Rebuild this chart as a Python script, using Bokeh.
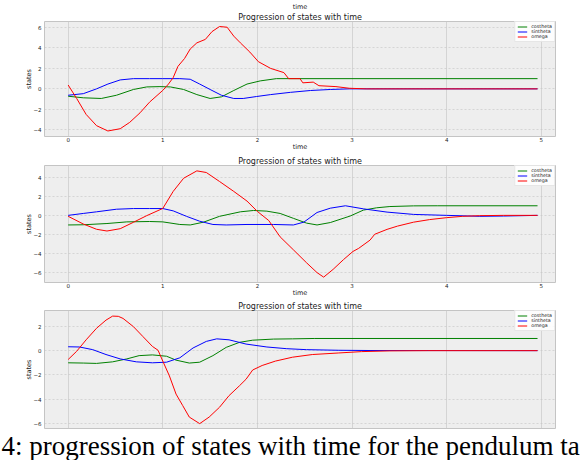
from bokeh.plotting import figure
from bokeh.layouts import column
from bokeh.models import Range1d, SingleIntervalTicker, Title
from bokeh.embed import file_html
from bokeh.resources import INLINE

TITLE = "Progression of states with time"
X_LABEL = "time"
Y_LABEL = "states"
NAMES = ["costheta", "sintheta", "omega"]
COLORS = ["green", "blue", "red"]
CAPTION = "4: progression of states with time for the pendulum ta"

# ---------------- panel 1 ----------------
p1_cos_t = [0, 0.16, 0.35, 0.51, 0.69, 0.83, 0.97, 1.08, 1.22, 1.36, 1.50, 1.62, 1.75, 1.89, 2.03, 2.2, 4.96]
p1_cos_v = [-0.72, -0.875, -0.94, -0.625, -0.06, 0.19, 0.22, 0.19, -0.06, -0.56, -0.94, -0.78, -0.16, 0.47, 0.78, 1.0, 1.0]
p1_sin_t = [0, 0.16, 0.30, 0.42, 0.55, 0.69, 0.86, 1.0, 1.18, 1.29, 1.39, 1.50, 1.62, 1.75, 1.85, 1.99,
            2.14, 2.35, 2.56, 2.77, 2.97, 4.96]
p1_sin_v = [-0.625, -0.47, 0.0, 0.47, 0.875, 1.0, 1.0, 1.0, 1.0, 0.94, 0.47, -0.06, -0.625, -0.94, -0.94, -0.75,
            -0.56, -0.34, -0.16, -0.06, 0.0, 0.0]
p1_om_t = [0, 0.09, 0.19, 0.30, 0.42, 0.55, 0.65, 0.76, 0.86, 1.0, 1.06, 1.11, 1.16, 1.23, 1.29, 1.36, 1.45,
           1.52, 1.60, 1.68, 1.75, 1.82, 1.92, 2.01, 2.14, 2.28, 2.33, 2.45, 2.48, 2.59, 2.65, 2.83,
           2.97, 3.15, 4.96]
p1_om_v = [0.375, -0.94, -2.5, -3.6, -4.12, -3.9, -3.28, -2.34, -1.3, -0.15, 0.47, 1.1, 2.2, 2.97, 3.9, 4.5, 4.84,
           5.6, 6.1, 6.03, 5.16, 4.5, 3.6, 2.66, 2.0, 1.59, 1.0, 1.0, 0.59, 0.66, 0.31, 0.22,
           0.06, 0.0, 0.0]

# ---------------- panel 2 ----------------
p2_cos_t = [0, 0.16, 0.41, 0.62, 0.86, 1.0, 1.18, 1.29, 1.43, 1.60, 1.82, 1.96, 2.10, 2.24, 2.38, 2.52, 2.63,
            2.77, 2.98, 3.12, 3.26, 3.4, 3.65, 3.9, 4.96]
p2_cos_v = [-1.0, -0.98, -0.85, -0.68, -0.64, -0.68, -0.95, -1.0, -0.71, -0.1, 0.37, 0.51, 0.44, 0.2, -0.31, -0.81, -1.0,
            -0.75, -0.07, 0.55, 0.79, 0.92, 0.99, 1.0, 1.0]
p2_sin_t = [0, 0.16, 0.30, 0.51, 0.69, 0.86, 1.0, 1.11, 1.25, 1.39, 1.53, 1.67, 1.89, 2.17, 2.38, 2.49, 2.63,
            2.77, 2.93, 3.12, 3.37, 3.65, 4.0, 4.35, 4.6, 4.96]
p2_sin_v = [0.0, 0.2, 0.37, 0.64, 0.71, 0.71, 0.71, 0.47, -0.1, -0.61, -0.95, -1.0, -0.95, -0.95, -1.0, -0.71, 0.3,
            0.75, 1.0, 0.68, 0.34, 0.1, 0.0, -0.1, -0.07, 0.0]
p2_om_t = [0, 0.16, 0.30, 0.41, 0.55, 0.69, 0.83, 1.0, 1.11, 1.22, 1.36, 1.46, 1.60, 1.75, 1.89, 2.0, 2.12,
           2.24, 2.38, 2.52, 2.63, 2.70, 2.80, 2.91, 3.01, 3.07, 3.19, 3.24, 3.37, 3.48, 3.65, 3.82,
           4.0, 4.17, 4.35, 4.6, 4.96]
p2_om_v = [-0.1, -0.9, -1.45, -1.63, -1.39, -0.72, -0.03, 0.72, 2.5, 3.87, 4.64, 4.47, 3.53, 2.5, 1.49, 0.41, -0.54,
           -2.24, -3.59, -4.95, -5.97, -6.44, -5.63, -4.61, -3.76, -3.44, -2.58, -1.97, -1.46, -1.12, -0.71, -0.44,
           -0.24, -0.1, -0.03, 0.0, 0.0]

# ---------------- panel 3 ----------------
p3_cos_t = [0, 0.16, 0.30, 0.47, 0.62, 0.75, 0.89, 1.04, 1.14, 1.28, 1.39, 1.53, 1.67, 1.81, 1.95, 2.17, 2.37, 2.6, 4.96]
p3_cos_v = [-1.0, -1.02, -1.05, -0.92, -0.68, -0.41, -0.35, -0.46, -0.78, -1.02, -0.95, -0.41, 0.27, 0.68, 0.86, 0.95, 0.97, 1.0, 1.0]
p3_sin_t = [0, 0.12, 0.26, 0.40, 0.55, 0.72, 0.89, 1.04, 1.18, 1.32, 1.46, 1.57, 1.70, 1.88, 2.10, 2.31, 2.52, 2.86, 3.2, 4.96]
p3_sin_v = [0.32, 0.3, 0.08, -0.32, -0.68, -0.92, -1.0, -0.95, -0.59, 0.22, 0.76, 0.97, 0.89, 0.54, 0.3, 0.16, 0.08, 0.03, 0.01, 0.0]
p3_om_t = [0, 0.09, 0.19, 0.30, 0.40, 0.47, 0.53, 0.58, 0.69, 0.79, 0.89, 0.95, 1.0, 1.07, 1.14, 1.21, 1.28, 1.39,
           1.49, 1.60, 1.70, 1.81, 1.88, 1.95, 2.05, 2.19, 2.37, 2.58, 2.86, 3.1, 3.4, 3.8, 4.96]
p3_om_v = [-0.73, -0.05, 0.89, 1.84, 2.51, 2.84, 2.82, 2.65, 1.97, 1.16, 0.35, 0.03, -0.86, -2.08, -3.57, -4.51, -5.46, -6.0,
           -5.46, -4.65, -3.7, -2.89, -2.35, -1.59, -1.22, -0.86, -0.54, -0.32, -0.19, -0.08, -0.02, 0.0, 0.0]

X_RANGE = (-0.25, 5.15)
Y_RANGES = [(-4.66, 6.59), (-7.0, 5.2), (-6.4, 3.3)]

FONT = "DejaVu Sans"
TXT = "#222222"
W = 588
LEFT, RIGHT = 44, 33


def make_title(text, size, font=FONT, align="center", offset=0, color=TXT):
    t = Title(text=text, align=align, offset=offset, text_font=font,
              text_font_size=size, text_font_style="normal", text_color=color)
    if hasattr(t, "standoff"):
        t.standoff = 0
    return t


def make_panel(series, yr, height, top, bottom, show_x):
    p = figure(width=W, height=height, x_range=Range1d(*X_RANGE), y_range=Range1d(*yr),
               output_backend="svg", toolbar_location=None, title=None,
               x_axis_location="below" if show_x else None,
               min_border_left=LEFT, min_border_right=RIGHT,
               min_border_top=top, min_border_bottom=bottom)
    p.background_fill_color = "#eeeeee"
    p.border_fill_color = "white"
    p.outline_line_color = "#c4c4c4"
    p.outline_line_width = 1
    p.add_layout(make_title(TITLE, "8px"), "above")

    xt = SingleIntervalTicker(interval=1)
    yt = SingleIntervalTicker(interval=2)
    p.xgrid.ticker = xt
    p.ygrid.ticker = yt
    p.xgrid.grid_line_color = "#cdcdcd"
    p.xgrid.grid_line_width = 0.8
    p.ygrid.grid_line_color = "#c4c4c4"
    p.ygrid.grid_line_width = 0.6
    p.ygrid.grid_line_dash = "2 2"

    axes = list(p.yaxis) + (list(p.xaxis) if show_x else [])
    for ax in axes:
        ax.major_tick_line_color = None
        ax.minor_tick_line_color = None
        ax.axis_line_color = None
        ax.major_tick_out = 0
        ax.major_tick_in = 0
        ax.minor_tick_out = 0
        ax.minor_tick_in = 0
        ax.major_label_text_font = FONT
        ax.major_label_text_font_size = "5.5px"
        ax.major_label_text_color = TXT
        ax.axis_label_text_font = FONT
        ax.axis_label_text_font_size = "6.5px"
        ax.axis_label_text_font_style = "normal"
        ax.axis_label_text_color = TXT
    p.yaxis.ticker = yt
    p.yaxis.axis_label = Y_LABEL
    p.yaxis.major_label_standoff = 3
    p.yaxis.axis_label_standoff = -3
    if show_x:
        p.xaxis.ticker = xt
        p.xaxis.axis_label = X_LABEL
        p.xaxis.major_label_standoff = 0
        p.xaxis.axis_label_standoff = -2

    for (t, v), name, col in zip(series, NAMES, COLORS):
        p.line(t, v, line_color=col, line_width=1, legend_label=name)

    lg = p.legend[0]
    lg.location = "top_right"
    lg.margin = 0
    lg.padding = 2
    lg.spacing = 0
    lg.label_standoff = 4
    lg.glyph_width = 10
    lg.glyph_height = 5
    lg.label_height = 5
    lg.label_text_font = FONT
    lg.label_text_font_size = "4.8px"
    lg.label_text_color = TXT
    lg.background_fill_color = "white"
    lg.background_fill_alpha = 0.85
    lg.border_line_color = "#d0d0d0"
    lg.border_line_width = 0.6
    return p


p1 = make_panel([(p1_cos_t, p1_cos_v), (p1_sin_t, p1_sin_v), (p1_om_t, p1_om_v)], Y_RANGES[0], 153, 21, 12, True)
# x label of the panel above, cut by the crop of the original figure
p1.add_layout(make_title(X_LABEL, "6.5px"), "above")

p2 = make_panel([(p2_cos_t, p2_cos_v), (p2_sin_t, p2_sin_v), (p2_om_t, p2_om_v)], Y_RANGES[1], 146, 12, 14, True)

p3 = make_panel([(p3_cos_t, p3_cos_v), (p3_sin_t, p3_sin_v), (p3_om_t, p3_om_v)], Y_RANGES[2], 161, 10, 0, False)
p3.add_layout(make_title(CAPTION, "27px", font="Liberation Serif", align="left",
                         offset=-(LEFT - 1), color="black"), "below")

layout = column(p1, p2, p3, spacing=0)
open("out.html", "w").write(file_html(layout, INLINE))
